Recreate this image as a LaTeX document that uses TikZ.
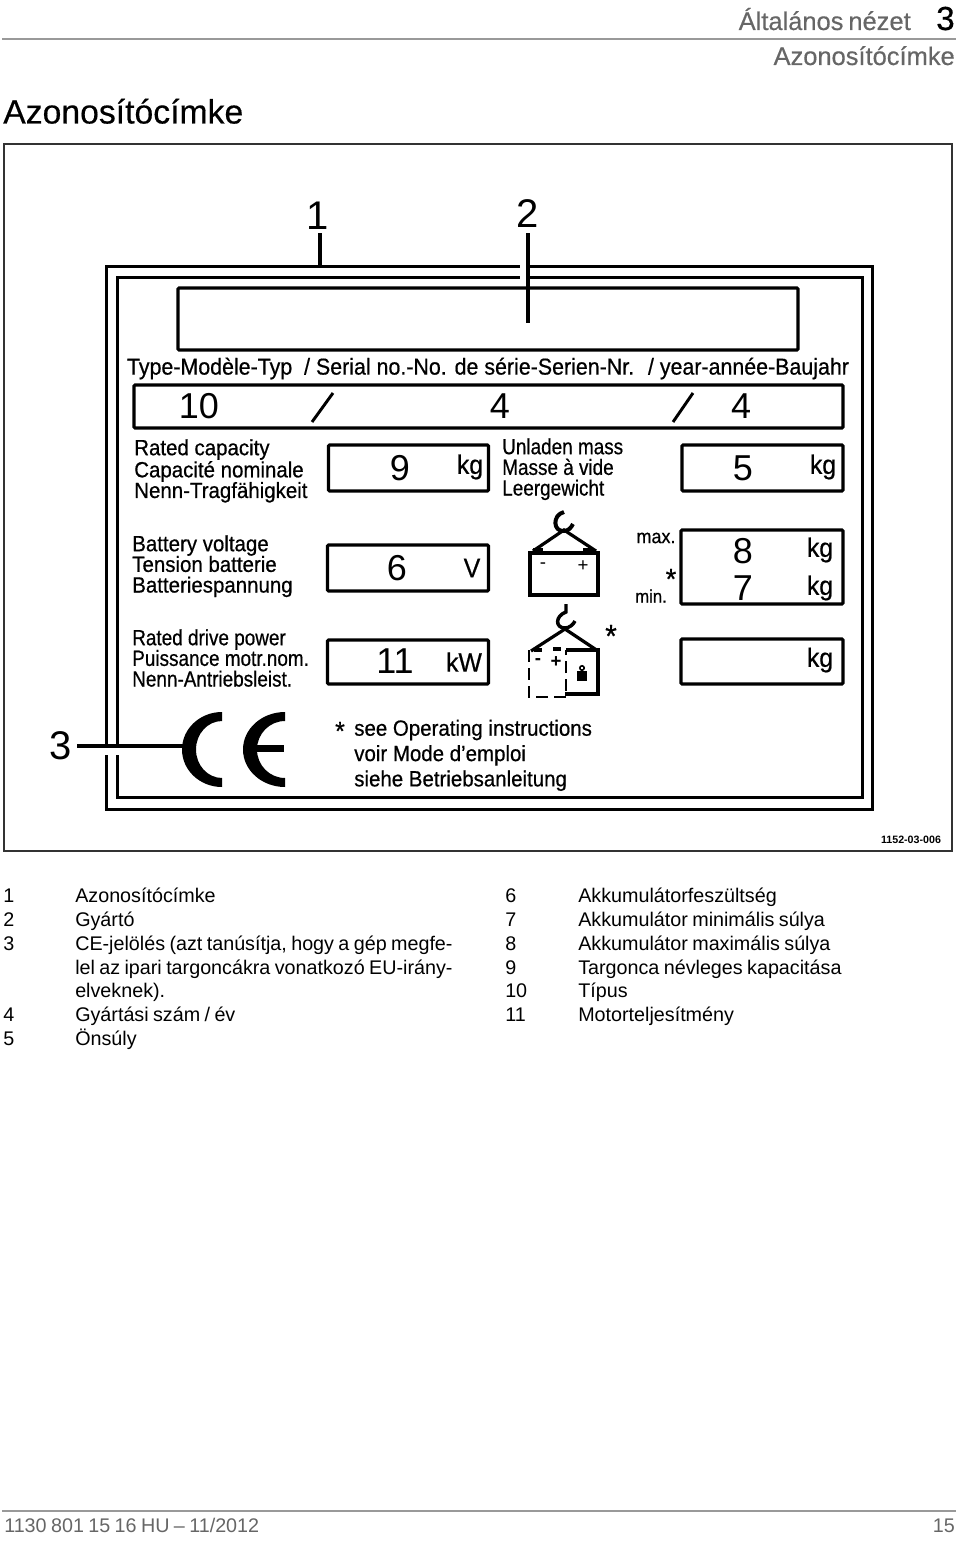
\documentclass[tikz,border=0pt]{standalone}
\usepackage{fontspec}
\setmainfont[WordSpace=0.8]{Liberation Sans}
\newfontfamily\plate[FakeStretch=0.93,FakeBold=0.6]{Liberation Sans}
\newfontfamily\platen[FakeStretch=0.86,FakeBold=0.6]{Liberation Sans}
\newfontfamily\hbold[FakeBold=0.4,WordSpace=0.7]{Liberation Sans}
\definecolor{hdr}{gray}{0.4}
\tikzset{x=0.75pt,y=-0.75pt,
 platebox/.style={draw=black,line width=2.3pt,rounded corners=0.8pt,inner sep=0pt},
 framel/.style={draw=black,line width=2.25pt},
 bignum/.style={font=\fontsize{27}{27}\selectfont,inner sep=0pt},
 topnum/.style={font=\fontsize{30}{30}\selectfont,inner sep=0pt},
 unitlab/.style={font=\plate\fontsize{20}{20}\selectfont,inner sep=0pt},
 lab/.style={font=\plate\fontsize{16.5}{15.5}\selectfont,align=left,anchor=north west,inner sep=0pt},
 captxt/.style={font=\fontsize{14.8}{15}\selectfont,anchor=base west,inner sep=0pt},
 leader/.style={draw=black,line width=3.2pt},
 icon/.style={draw=black,line width=2.4pt},
}
\begin{document}
\begin{tikzpicture}
\useasboundingbox (0,0) rectangle (960,1541);
% header
\draw[draw=gray!80,line width=0.8pt] (2,39) -- (956,39);
\node[anchor=base east,inner sep=0pt,text=hdr,font=\hbold\fontsize{19.1}{19.1}\selectfont] (h1) at (911,30) {Általános nézet};
\node[anchor=base east,inner sep=0pt,font=\hbold\fontsize{25}{25}\selectfont] (h2) at (955,30) {3};
\node[anchor=base east,inner sep=0pt,text=hdr,font=\hbold\fontsize{19.1}{19.1}\selectfont] (h3) at (955,65) {Azonosítócímke};
\node[anchor=base west,inner sep=0pt,font=\hbold\fontsize{25.3}{25.3}\selectfont] (title) at (3,123.5) {Azonosítócímke};
% picture frame
\draw[draw=black!80,line width=1.4pt] (4,144) rectangle (952,851);
% plate frames
\draw[framel] (106,266) rectangle (872,809);
\draw[framel] (117,277) rectangle (862,797);
% gaps in the frames
\fill[white] (520,260) rectangle (528,283);
\fill[white] (100,748) rectangle (123,755);
% boxes
\node[platebox,minimum width=0.75pt*620,minimum height=0.75pt*62] (namebox) at (488,319) {};
\node[platebox,minimum width=0.75pt*709,minimum height=0.75pt*43] (typebox) at (488.5,406.5) {};
\node[platebox,minimum width=0.75pt*160,minimum height=0.75pt*46] (b9) at (408.5,468) {};
\node[platebox,minimum width=0.75pt*161,minimum height=0.75pt*46] (b5) at (762.5,468) {};
\node[platebox,minimum width=0.75pt*161,minimum height=0.75pt*46] (b6) at (408,568) {};
\node[platebox,minimum width=0.75pt*162,minimum height=0.75pt*74] (b87) at (762,567) {};
\node[platebox,minimum width=0.75pt*161,minimum height=0.75pt*44] (b11) at (408,662) {};
\node[platebox,minimum width=0.75pt*162,minimum height=0.75pt*45] (bx) at (762,661.5) {};
% leaders
\node[topnum] (n1) at (318,216) {1};
\node[topnum] (n2) at (528,214) {2};
\node[topnum] (n3) at (61,746) {3};
\coordinate (e1) at (320,266);
\coordinate (e2) at (528,323);
\coordinate (e3) at (184,746);
\coordinate (s1) at (320,233);
\coordinate (s2) at (528,233);
\coordinate (s3) at (77,746);
\draw[leader] (s1) -- (e1);
\draw[leader] (s2) -- (e2);
\draw[leader] (s3) -- (e3);
% plate header
\node[inner sep=0pt,font=\plate\fontsize{17.25}{17.25}\selectfont] (hdrline) at (488,368.5) {Type-Modèle-Typ \ / Serial no.-No. de série-Serien-Nr. \ / year-année-Baujahr};
\node[bignum] (v10) at (199,406) {10};
\coordinate (sl1a) at (333,393); \coordinate (sl1b) at (312,422);
\draw[line width=2.2pt] (sl1a) -- (sl1b);
\node[bignum] (v4a) at (500,406) {4};
\coordinate (sl2a) at (693,393); \coordinate (sl2b) at (673,422);
\draw[line width=2.2pt] (sl2a) -- (sl2b);
\node[bignum] (v4b) at (741,406) {4};
\node[bignum] (v9) at (400,468) {9};
\node[bignum] (v5) at (743,468) {5};
\node[bignum] (v6) at (397,568) {6};
\node[bignum] (v8) at (743,551) {8};
\node[bignum] (v7) at (743,588) {7};
\node[bignum] (v11) at (395,661) {11};
\node[unitlab] (u9) at (470,467) {kg};
\node[unitlab] (u5) at (823,467) {kg};
\node[unitlab] (u6) at (472,568) {V};
\node[unitlab] (u8) at (820,550) {kg};
\node[unitlab] (u7) at (820,588) {kg};
\node[unitlab] (u11) at (464,662) {kW};
\node[unitlab] (ux) at (820,660) {kg};
% labels
\node[lab] (l1) at (134,439) {Rated capacity\\Capacité nominale\\Nenn-Tragfähigkeit};
\node[lab,font=\platen\fontsize{16.5}{15.5}\selectfont] (l2) at (502,438) {Unladen mass\\Masse à vide\\Leergewicht};
\node[lab] (l3) at (132,535) {Battery voltage\\Tension batterie\\Batteriespannung};
\node[lab,font=\platen\fontsize{16.5}{15.5}\selectfont] (l4) at (132,629) {Rated drive power\\Puissance motr.nom.\\Nenn-Antriebsleist.};
\node[inner sep=0pt,font=\plate\fontsize{14.5}{14.5}\selectfont] (lmax) at (656,538) {max.};
\node[inner sep=0pt,font=\plate\fontsize{13.5}{13.5}\selectfont] (lmin) at (651,596) {min.};
\node[inner sep=0pt,font=\plate\fontsize{22}{22}\selectfont] (st1) at (671,579) {*};
\node[inner sep=0pt,font=\plate\fontsize{24}{24}\selectfont] (st2) at (611,636) {*};
\node[inner sep=0pt,font=\plate\fontsize{20}{20}\selectfont] (st3) at (340,731) {*};
\node[lab,font=\plate\fontsize{16.5}{19}\selectfont] (l5) at (354,719.5) {see Operating instructions\\voir Mode d’emploi\\siehe Betriebsanleitung};
% battery icon
\draw[line width=3pt] (564,512) .. controls (552,515) and (553,532) .. (564,531) .. controls (568,531) and (571,528) .. (573,524);
\draw[icon] (533,551) -- (564,530) -- (596,551);
\draw[line width=3.4pt] (530,553) rectangle (598,595);
\draw[line width=3.5pt] (533,550) -- (543,550) (583,550) -- (593,550);
\node[inner sep=0pt,font=\fontsize{14}{14}\selectfont] (bm) at (543,566) {-};
\node[inner sep=0pt,font=\fontsize{14}{14}\selectfont] (bp) at (583,566) {+};
% second icon
\draw[line width=2.6pt] (566,604) -- (566,612) .. controls (555,616) and (555,628) .. (565,628) .. controls (569,628) and (573,625) .. (575,621);
\draw[icon] (531,651) -- (565,629) -- (598,651);
\draw[line width=2.4pt] (566,650) -- (598,650) -- (598,694) -- (565,694);
\draw[line width=2.2pt,dash pattern=on 9pt off 4.5pt] (529,650) -- (529,697) -- (566,697) -- (566,650);
\draw[line width=3pt] (534,650) -- (542,650) (553,649) -- (561,649);
\node[inner sep=0pt,font=\bfseries\fontsize{14}{14}\selectfont] (cm) at (538,662) {-};
\node[inner sep=0pt,font=\bfseries\fontsize{14}{14}\selectfont] (cp) at (556,662) {+};
\fill (577,671) rectangle (587,681);
\draw[line width=1.2pt] (582,668) circle[radius=2.2];
% CE
\fill (222,712) arc[start angle=-90,end angle=-270,x radius=40,y radius=37.5] -- (222,787) -- (222,778) arc[start angle=-270,end angle=-90,x radius=26,y radius=28.5] -- cycle;
\fill (285,712) arc[start angle=-90,end angle=-270,x radius=42,y radius=37.5] -- (285,778) arc[start angle=-270,end angle=-90,x radius=28,y radius=28.5] -- cycle;
\fill (252,745) rectangle (284,752);
% part id
\node[inner sep=0pt,font=\bfseries\fontsize{8}{8}\selectfont] (pid) at (911,840) {1152-03-006};
% captions
\foreach \nm/\tx/\y [count=\i] in {1/Azonosítócímke/902,2/Gyártó/926,3/{CE-jelölés (azt tanúsítja, hogy a gép megfe-}/950,/{lel az ipari targoncákra vonatkozó EU-irány-}/974,/{elveknek).}/997,4/{Gyártási szám / év}/1021,5/Önsúly/1045}{
 \node[captxt] (a\i) at (3,\y) {\nm};
 \node[captxt] (at\i) at (75,\y) {\tx};
}
\foreach \nm/\tx/\y [count=\i] in {6/Akkumulátorfeszültség/902,7/Akkumulátor minimális súlya/926,8/Akkumulátor maximális súlya/950,9/Targonca névleges kapacitása/974,10/Típus/997,11/Motorteljesítmény/1021}{
 \node[captxt] (c\i) at (505,\y) {\nm};
 \node[captxt] (ct\i) at (578,\y) {\tx};
}
% footer
\draw[draw=gray!80,line width=0.8pt] (2,1511) -- (956,1511);
\node[anchor=base west,inner sep=0pt,text=hdr,font=\fontsize{14.8}{15}\selectfont] (f1) at (4,1532) {1130 801 15 16 HU – 11/2012};
\node[anchor=base east,inner sep=0pt,text=hdr,font=\fontsize{14.8}{15}\selectfont] (f2) at (955,1532) {15};
\end{tikzpicture}
\end{document}
